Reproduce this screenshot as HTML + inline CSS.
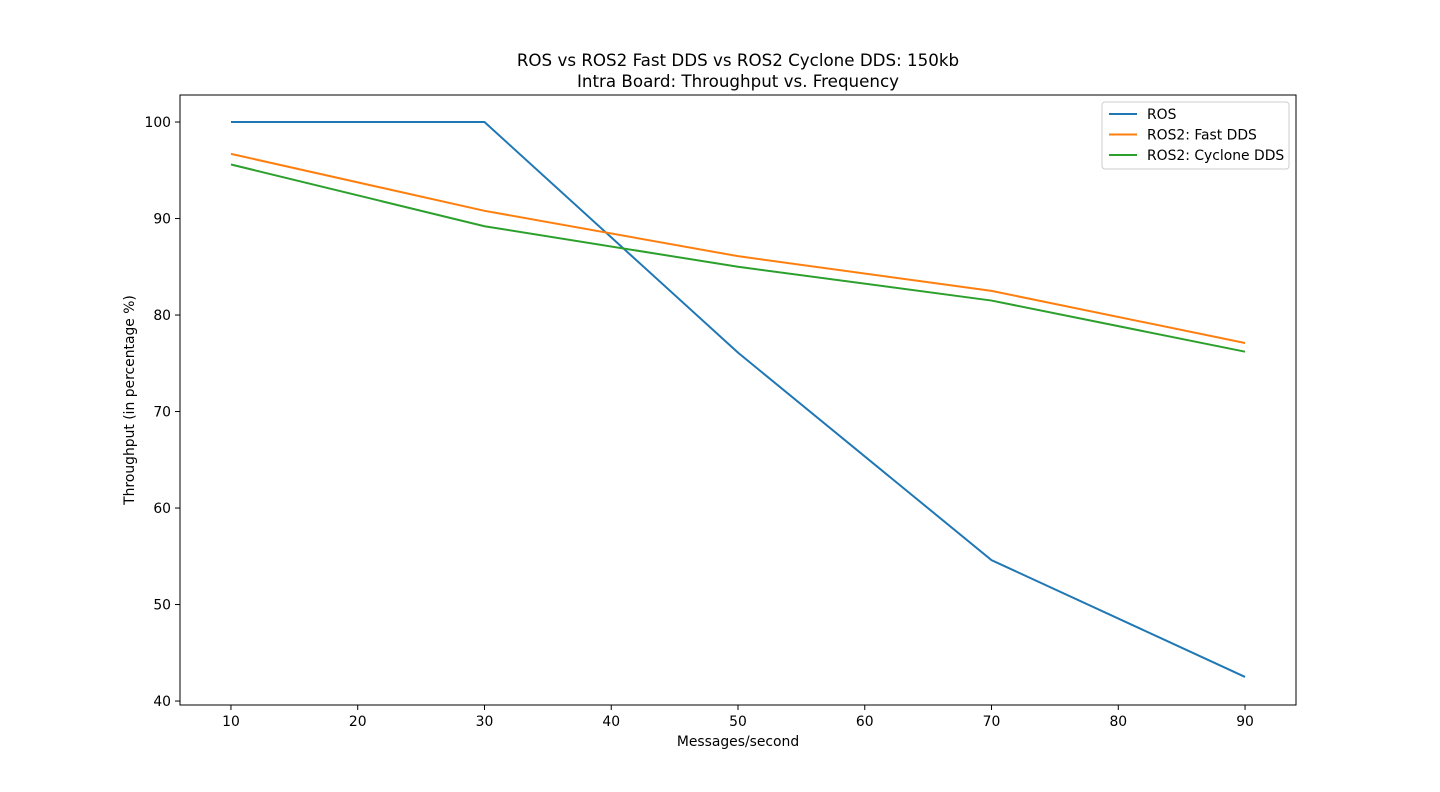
<!DOCTYPE html>
<html><head><meta charset="utf-8">
<style>
html,body{margin:0;padding:0;background:#fff;}
svg{display:block;font-family:"DejaVu Sans","Liberation Sans",sans-serif;}
</style></head>
<body>
<svg id="chart" width="1440" height="792" viewBox="0 0 1440 792">
<text x="738" y="66" text-anchor="middle" font-size="16.7">ROS vs ROS2 Fast DDS vs ROS2 Cyclone DDS: 150kb</text>
<text x="738" y="87" text-anchor="middle" font-size="16.7">Intra Board: Throughput vs. Frequency</text>
<g id="grid"></g>
<g id="series"></g>
<rect x="180" y="95" width="1116" height="610" fill="none" stroke="#000" stroke-width="1"/>
<g id="xticks"></g><g id="yticks"></g>
<text x="738" y="746" text-anchor="middle" font-size="13.9">Messages/second</text>
<text transform="translate(134,400) rotate(-90)" text-anchor="middle" font-size="13.9">Throughput (in percentage %)</text>
<g id="legend">
<rect x="1102" y="102" width="187" height="67" rx="3" fill="#fff" stroke="#ccc"/>
</g>
</svg>
<script>
const categories=[10,30,50,70,90];
const rosValues=[100,100,76.1,54.6,42.5];
const fastValues=[96.7,90.8,86.1,82.5,77.1];
const cycloneValues=[95.6,89.2,85.0,81.5,76.2];
const seriesNames=["ROS","ROS2: Fast DDS","ROS2: Cyclone DDS"];
const seriesColors=["#1f77b4","#ff7f0e","#2ca02c"];
const xTickLabels=[10,20,30,40,50,60,70,80,90];
const yTickLabels=[40,50,60,70,80,90,100];

const L=180,R=1296,T=95,B=705;
const xMin=5.98,xMax=94.02,yMin=39.59,yMax=102.8;
const xs=v=>L+(v-xMin)/(xMax-xMin)*(R-L);
const ys=v=>B-(v-yMin)/(yMax-yMin)*(B-T);
const NS="http://www.w3.org/2000/svg";
function mk(tag,attrs,parent){const e=document.createElementNS(NS,tag);for(const k in attrs)e.setAttribute(k,attrs[k]);parent.appendChild(e);return e;}

const xt=document.getElementById('xticks');
xTickLabels.forEach(v=>{
  const l=mk('line',{x1:xs(v),x2:xs(v),y1:B,y2:B+5,stroke:'#000'},xt);
  
  
  const t=mk('text',{x:xs(v),y:B+21,'text-anchor':'middle','font-size':13.9},xt);
  t.textContent=v;
  
  
});
const yt=document.getElementById('yticks');
yTickLabels.forEach(v=>{
  const l=mk('line',{x1:L-5,x2:L,y1:ys(v),y2:ys(v),stroke:'#000'},yt);
  
  
  const t=mk('text',{x:L-9,y:ys(v)+5,'text-anchor':'end','font-size':13.9},yt);
  t.textContent=v;
  
  
});
const sg=document.getElementById('series');
const allValues=[rosValues,fastValues,cycloneValues];
allValues.forEach((vals,i)=>{
  const pts=vals.map((v,j)=>xs(categories[j])+','+ys(v)).join(' ');
  const p=mk('polyline',{points:pts,fill:'none',stroke:seriesColors[i],'stroke-width':2},sg);
  
  
});
const lg=document.getElementById('legend');
seriesNames.forEach((n,i)=>{
  const y=114+i*20.5;
  const l=mk('line',{x1:1109,x2:1137,y1:y,y2:y,stroke:seriesColors[i],'stroke-width':2},lg);
  
  
  const t=mk('text',{x:1147,y:y+5,'font-size':13.9},lg);
  t.textContent=n;
  
  
});
</script>
</body></html>
